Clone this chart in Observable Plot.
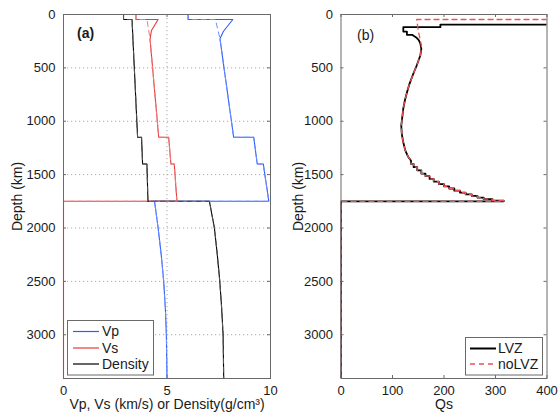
<!DOCTYPE html>
<html><head><meta charset="utf-8">
<script src="https://cdn.jsdelivr.net/npm/d3@7"></script>
<script src="https://cdn.jsdelivr.net/npm/@observablehq/plot@0.6"></script>
<style>
body{margin:0;background:#fff;}
#wrap{position:relative;width:558px;height:417px;font-family:"Liberation Sans",Arial,sans-serif;background:#fff;}
#wrap svg{position:absolute;top:0;}
</style></head><body><div id="wrap"></div>
<script>
// ---------- data ----------
const depthMax = 3410;
const depthTicks = [0, 500, 1000, 1500, 2000, 2500, 3000];
const xTicksA = [0, 5, 10];
const xTicksB = [0, 100, 200, 300, 400];

// Panel (a): Vp, Vs, Density versus depth (LVZ model = solid, noLVZ model = dashed)
const vpDepth   = [0, 47, 47, 159, 228, 1150, 1150, 1400, 1400, 1750, 1750, 2000, 2250, 2500, 2750, 3000, 3410];
const vpValue   = [6.02, 6.02, 8.18, 7.72, 7.56, 8.22, 9.19, 9.36, 9.65, 9.92, 4.40, 4.57, 4.72, 4.84, 4.92, 4.97, 5.00];
const vpNoDepth = [0, 47, 47, 228, 1150, 1150, 1400, 1400, 1750, 1750, 2000, 2250, 2500, 2750, 3000, 3410];
const vpNoValue = [6.02, 6.02, 7.34, 7.56, 8.22, 9.19, 9.36, 9.65, 9.92, 4.40, 4.57, 4.72, 4.84, 4.92, 4.97, 5.00];

const vsDepth   = [0, 47, 47, 150, 228, 1150, 1150, 1400, 1400, 1750, 1750, 3410];
const vsValue   = [3.50, 3.50, 4.57, 4.25, 4.18, 4.60, 5.08, 5.19, 5.35, 5.48, 0, 0];
const vsNoDepth = [0, 47, 47, 228, 1150, 1150, 1400, 1400, 1750, 1750, 3410];
const vsNoValue = [3.50, 3.50, 4.03, 4.18, 4.60, 5.08, 5.19, 5.35, 5.48, 0, 0];

const rhoDepth  = [0, 47, 47, 1150, 1150, 1400, 1400, 1750, 1750, 2000, 2250, 2500, 2750, 3000, 3410];
const rhoValue  = [2.90, 2.90, 3.31, 3.58, 3.77, 3.82, 4.03, 4.08, 7.05, 7.29, 7.43, 7.55, 7.64, 7.71, 7.74];

// Panel (b): Qs profiles. Shallow parts differ, deeper part (>= 322 km) is shared.
const qsTopLVZDepth = [0, 94, 94, 119, 119, 160, 160, 190, 190, 215, 240, 270];
const qsTopLVZ      = [600, 600, 193, 193, 121, 121, 128, 128, 138, 146, 151, 154];
const qsTopNoDepth  = [0, 47, 47, 150, 290];
const qsTopNo       = [600, 600, 147, 150, 156];
const qsDeepDepth = [322, 384, 478, 560, 650, 730, 806, 880, 962, 1040, 1119, 1200, 1275, 1330, 1370,
  1400, 1400, 1430, 1430, 1460, 1460, 1490, 1490, 1515, 1515, 1540, 1540, 1565, 1565, 1590, 1590,
  1610, 1610, 1630, 1630, 1650, 1650, 1668, 1668, 1685, 1685, 1700, 1700, 1715, 1715, 1730, 1730,
  1745, 1745, 1750, 1750, 3410];
const qsDeep      = [156, 154, 147, 140, 133, 128, 124, 121, 119, 117, 118, 121, 125, 130, 136,
  136, 141, 141, 148, 148, 156, 156, 164, 164, 172, 172, 180, 180, 190, 190, 200,
  200, 210, 210, 220, 220, 231, 231, 242, 242, 254, 254, 265, 265, 277, 277, 294,
  294, 316, 316, 0, 0];

const rows = (ds, vs) => ds.map((d, i) => ({d, v: vs[i]}));
const qsLVZRows = rows(qsTopLVZDepth.concat(qsDeepDepth), qsTopLVZ.concat(qsDeep));
const qsNoRows  = rows(qsTopNoDepth.concat(qsDeepDepth), qsTopNo.concat(qsDeep));

// ---------- styles ----------
const BLUE = "#2b5cff", RED = "#e83a3a", BLACK = "#000";
const FRAME = "#6a6a6a";
const H = 417, MT = 14, MB = 39;
const FH = H - MT - MB;
const font = '"Liberation Sans", Arial, Helvetica, sans-serif';
const fmt = d3.format("d");

function inwardTicks(xt, yt, fw) {
  return [
    Plot.tickX(xt, {x: d => d, insetTop: FH - 3, stroke: FRAME}),
    Plot.tickX(xt, {x: d => d, insetBottom: FH - 3, stroke: FRAME}),
    Plot.tickY(yt, {y: d => d, insetRight: fw - 3, stroke: FRAME}),
    Plot.tickY(yt, {y: d => d, insetLeft: fw - 3, stroke: FRAME})
  ];
}

// ---------- panel (a) ----------
const WA = 278, MLA = 63, MRA = 8;
const plotA = Plot.plot({
  width: WA, height: H, marginLeft: MLA, marginRight: MRA, marginTop: MT, marginBottom: MB,
  x: {domain: [0, 10]},
  y: {domain: [0, depthMax], reverse: true},
  style: {fontFamily: font, fontSize: "13px", color: "#1a1a1a", background: "white", overflow: "visible"},
  marks: [
    Plot.gridX([5], {stroke: "#a8a8a8", strokeOpacity: 1, strokeDasharray: "1.2,2.8"}),
    Plot.gridY(depthTicks.slice(1), {stroke: "#a8a8a8", strokeOpacity: 1, strokeDasharray: "1.2,2.8"}),
    ...inwardTicks(xTicksA, depthTicks, WA - MLA - MRA),
    Plot.line(rows(vpDepth, vpValue), {x: "v", y: "d", stroke: BLUE, strokeWidth: 1.1}),
    Plot.line(rows(vsDepth, vsValue), {x: "v", y: "d", stroke: RED, strokeWidth: 1.1}),
    Plot.line(rows(rhoDepth, rhoValue), {x: "v", y: "d", stroke: BLACK, strokeWidth: 1.1}),
    Plot.line(rows(vpNoDepth, vpNoValue), {x: "v", y: "d", stroke: "#6f8fff", strokeWidth: 1, strokeDasharray: "5,4"}),
    Plot.line(rows(vsNoDepth, vsNoValue), {x: "v", y: "d", stroke: "#f07a7a", strokeWidth: 1, strokeDasharray: "5,4"}),
    Plot.line(rows(rhoDepth, rhoValue), {x: "v", y: "d", stroke: "#555", strokeWidth: 1, strokeDasharray: "5,4"}),
    Plot.frame({stroke: FRAME}),
    Plot.axisX({ticks: xTicksA, tickFormat: fmt, tickSize: 0, tickPadding: 7, label: null, fontSize: 13}),
    Plot.axisY({ticks: depthTicks, tickFormat: fmt, tickSize: 0, tickPadding: 8, label: null, fontSize: 13}),
    Plot.text(["Vp, Vs (km/s) or Density(g/cm³)"], {frameAnchor: "bottom", lineAnchor: "middle", textAnchor: "middle", dy: 26.5, text: d => d, fontSize: 14}),
    Plot.text(["Depth (km)"], {frameAnchor: "left", lineAnchor: "middle", textAnchor: "middle", rotate: -90, dx: -45.5, text: d => d, fontSize: 14}),
    Plot.text(["(a)"], {frameAnchor: "top-left", lineAnchor: "middle", textAnchor: "start", dx: 13.5, dy: 19.5, text: d => d, fontSize: 14, fontWeight: "bold"})
  ]
});

// ---------- panel (b) ----------
const WB = 280, MLB = 62.5, MRB = 11.5;
const plotB = Plot.plot({
  width: WB, height: H, marginLeft: MLB, marginRight: MRB, marginTop: MT, marginBottom: MB,
  x: {domain: [0, 400]},
  y: {domain: [0, depthMax], reverse: true},
  style: {fontFamily: font, fontSize: "13px", color: "#1a1a1a", background: "white", overflow: "visible"},
  marks: [
    ...inwardTicks(xTicksB, depthTicks, WB - MLB - MRB),
    Plot.line(qsLVZRows, {x: "v", y: "d", stroke: BLACK, strokeWidth: 1.8, clip: true}),
    Plot.line(qsNoRows, {x: "v", y: "d", stroke: "#f05050", strokeWidth: 1.3, strokeDasharray: "5,4", clip: true}),
    Plot.frame({stroke: FRAME}),
    Plot.axisX({ticks: xTicksB, tickFormat: fmt, tickSize: 0, tickPadding: 7, label: null, fontSize: 13}),
    Plot.axisY({ticks: depthTicks, tickFormat: fmt, tickSize: 0, tickPadding: 8, label: null, fontSize: 13}),
    Plot.text(["Qs"], {frameAnchor: "bottom", lineAnchor: "middle", textAnchor: "middle", dy: 26.5, text: d => d, fontSize: 14}),
    Plot.text(["Depth (km)"], {frameAnchor: "left", lineAnchor: "middle", textAnchor: "middle", rotate: -90, dx: -42.5, text: d => d, fontSize: 14}),
    Plot.text(["(b)"], {frameAnchor: "top-left", lineAnchor: "middle", textAnchor: "start", dx: 16, dy: 21, text: d => d, fontSize: 14})
  ]
});

const wrap = document.getElementById("wrap");
plotA.style.left = "0px";
plotB.style.left = WA + "px";
wrap.appendChild(plotA);
wrap.appendChild(plotB);

// ---------- legends ----------
function legend(svg, box, items) {
  const g = d3.select(svg).append("g").attr("font-family", font).attr("font-size", 14).attr("text-anchor", "start");
  g.append("rect").attr("x", box.x).attr("y", box.y).attr("width", box.w).attr("height", box.h)
    .attr("fill", "white").attr("stroke", FRAME).attr("stroke-width", 1);
  items.forEach(it => {
    g.append("line").attr("x1", box.lx1).attr("x2", box.lx2).attr("y1", it.y).attr("y2", it.y)
      .attr("stroke", it.color).attr("stroke-width", it.w || 1.2).attr("stroke-dasharray", it.dash || null);
    g.append("text").attr("x", box.tx).attr("y", it.y).attr("dy", "0.35em").attr("text-anchor", "start")
      .attr("fill", "#1a1a1a").text(it.label);
  });
}
legend(plotA, {x: 67.5, y: 320.5, w: 86, h: 54.5, lx1: 73, lx2: 99, tx: 102},
  [{label: "Vp", color: BLUE, y: 331.5}, {label: "Vs", color: RED, y: 348}, {label: "Density", color: BLACK, y: 364}]);
legend(plotB, {x: 465 - WA + 0.5, y: 337.5, w: 77, h: 37.5, lx1: 470 - WA, lx2: 496 - WA, tx: 498 - WA},
  [{label: "LVZ", color: BLACK, y: 348.5, w: 2}, {label: "noLVZ", color: "#f05050", y: 364, w: 1.3, dash: "5,4"}]);
</script></body></html>
